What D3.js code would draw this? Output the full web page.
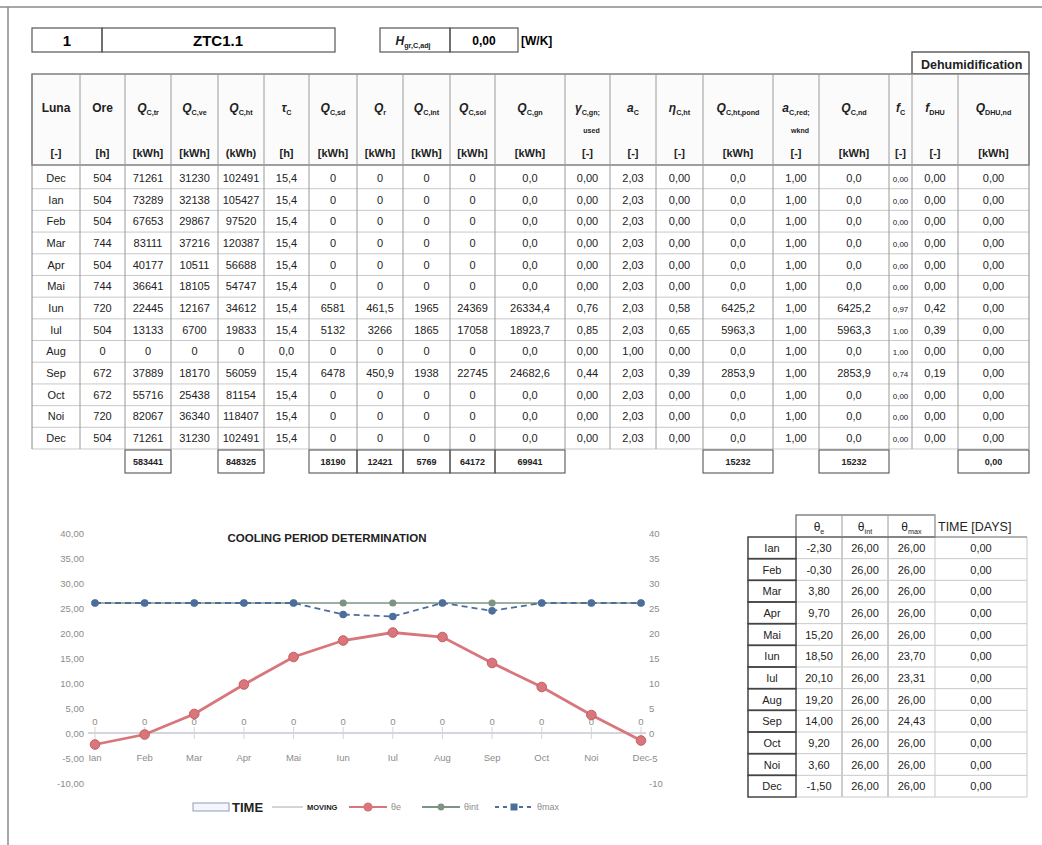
<!DOCTYPE html>
<html>
<head>
<meta charset="utf-8">
<script src="https://cdn.jsdelivr.net/npm/d3@7"></script>
<style>
body { margin: 0; background: #fff; }
svg { font-family: "Liberation Sans Narrow", "Liberation Sans", Arial, sans-serif; }
</style>
</head>
<body>
<svg id="sheet"></svg>
<script>
// ---- upper table data ----
const luna  = ["Dec","Ian","Feb","Mar","Apr","Mai","Iun","Iul","Aug","Sep","Oct","Noi","Dec"];
const ore   = [504,504,504,744,504,744,720,504,0,672,672,720,504];
const qTr   = [71261,73289,67653,83111,40177,36641,22445,13133,0,37889,55716,82067,71261];
const qVe   = [31230,32138,29867,37216,10511,18105,12167,6700,0,18170,25438,36340,31230];
const qHt   = [102491,105427,97520,120387,56688,54747,34612,19833,0,56059,81154,118407,102491];
const tauC  = [15.4,15.4,15.4,15.4,15.4,15.4,15.4,15.4,0,15.4,15.4,15.4,15.4];
const qSd   = [0,0,0,0,0,0,6581,5132,0,6478,0,0,0];
const qR    = [0,0,0,0,0,0,461.5,3266,0,450.9,0,0,0];
const qInt  = [0,0,0,0,0,0,1965,1865,0,1938,0,0,0];
const qSol  = [0,0,0,0,0,0,24369,17058,0,22745,0,0,0];
const qGn   = [0,0,0,0,0,0,26334.4,18923.7,0,24682.6,0,0,0];
const gamma = [0,0,0,0,0,0,0.76,0.85,0,0.44,0,0,0];
const aC    = [2.03,2.03,2.03,2.03,2.03,2.03,2.03,2.03,1.00,2.03,2.03,2.03,2.03];
const eta   = [0,0,0,0,0,0,0.58,0.65,0,0.39,0,0,0];
const qPond = [0,0,0,0,0,0,6425.2,5963.3,0,2853.9,0,0,0];
const aRed  = [1,1,1,1,1,1,1,1,1,1,1,1,1];
const qNd   = [0,0,0,0,0,0,6425.2,5963.3,0,2853.9,0,0,0];
const fC    = [0,0,0,0,0,0,0.97,1.00,1.00,0.74,0,0,0];
const fDhu  = [0,0,0,0,0,0,0.42,0.39,0,0.19,0,0,0];
const qDhu  = [0,0,0,0,0,0,0,0,0,0,0,0,0];

// totals row: [column index, value, decimals]
const totals = [[2,583441,0],[4,848325,0],[6,18190,0],[7,12421,0],[8,5769,0],[9,64172,0],[10,69941,0],[14,15232,0],[16,15232,0],[19,0,2]];

// ---- chart / right table data ----
const months    = ["Ian","Feb","Mar","Apr","Mai","Iun","Iul","Aug","Sep","Oct","Noi","Dec"];
const thetaE    = [-2.3,-0.3,3.8,9.7,15.2,18.5,20.1,19.2,14.0,9.2,3.6,-1.5];
const thetaInt  = [26,26,26,26,26,26,26,26,26,26,26,26];
const thetaMax  = [26,26,26,26,26,23.70,23.31,26,24.43,26,26,26];
const timeDays  = [0,0,0,0,0,0,0,0,0,0,0,0];
const leftTicks = [-10,-5,0,5,10,15,20,25,30,35,40];

const loc = d3.formatLocale({decimal: ",", thousands: ".", grouping: [3], currency: ["",""], minus: "-"});
const f = n => loc.format("." + n + "f");
const fAuto = v => Number.isInteger(v) ? f(0)(v) : f(1)(v);

const svg = d3.select("#sheet").attr("width", 1042).attr("height", 845);
const ink = "#222", rule = "#9a9a9a", faint = "#c9c9c9";

// page frame
svg.append("line").attr("x1", 0).attr("x2", 1042).attr("y1", 7).attr("y2", 7).attr("stroke", "#8a8a8a").attr("stroke-width", 1.5);
svg.append("line").attr("x1", 8).attr("x2", 8).attr("y1", 7).attr("y2", 845).attr("stroke", "#8a8a8a").attr("stroke-width", 1.5);

function box(x, y, w, h, sw = 1.2) {
    svg.append("rect").attr("x", x).attr("y", y).attr("width", w).attr("height", h)
        .attr("fill", "none").attr("stroke", "#555").attr("stroke-width", sw);
}

function label(g, x, y, main, sub, size, opts = {}) {
    const t = g.append("text").attr("x", x).attr("y", y)
        .attr("text-anchor", opts.anchor || "middle").attr("font-size", size)
        .attr("font-weight", opts.weight || "bold").attr("fill", ink);
    t.append("tspan").attr("font-style", opts.italic ? "italic" : null).text(main);
    if (sub) t.append("tspan").attr("font-size", size * 0.6).attr("dy", 3).attr("font-style", "normal").text(sub);
    return t;
}

// top boxes
box(32, 28, 70, 24); box(102, 28, 233, 24);
svg.append("text").attr("x", 67).attr("y", 46).attr("text-anchor", "middle").attr("font-size", 15).attr("font-weight", "bold").attr("font-family", "Liberation Sans").text("1");
svg.append("text").attr("x", 218).attr("y", 46).attr("text-anchor", "middle").attr("font-size", 15).attr("font-weight", "bold").attr("font-family", "Liberation Sans").text("ZTC1.1");
box(380, 28, 70, 24); box(450, 28, 68, 24);
label(svg, 413, 45, "H", "gr,C,adj", 12, {italic: true});
svg.append("text").attr("x", 484).attr("y", 45).attr("text-anchor", "middle").attr("font-size", 12).attr("font-weight", "bold").text("0,00");
svg.append("text").attr("x", 521).attr("y", 45).attr("font-size", 12).attr("font-weight", "bold").text("[W/K]");

// dehumidification header
box(912, 52, 117, 22, 1.4);
svg.append("text").attr("x", 921).attr("y", 69).attr("font-size", 12.5).attr("font-weight", "bold")
    .attr("font-family", "Liberation Sans").attr("fill", ink).text("Dehumidification");

// ---- upper table ----
const colEdges = [32,80,125,171,218,264,309,357,403,450,495,565,610,656,703,773,819,889,912,958,1029];
const columns = [
    {name: "Luna", unit: "[-]",   vals: luna,  fmt: d => d},
    {name: "Ore",  unit: "[h]",   vals: ore,   fmt: f(0)},
    {name: "Q", sub: "C,tr",  unit: "[kWh]", vals: qTr, fmt: f(0)},
    {name: "Q", sub: "C,ve",  unit: "[kWh]", vals: qVe, fmt: f(0)},
    {name: "Q", sub: "C,ht",  unit: "(kWh)", vals: qHt, fmt: f(0)},
    {name: "τ", sub: "C",     unit: "[h]",   vals: tauC, fmt: f(1)},
    {name: "Q", sub: "C,sd",  unit: "[kWh]", vals: qSd, fmt: f(0)},
    {name: "Q", sub: "r",     unit: "[kWh]", vals: qR,  fmt: fAuto},
    {name: "Q", sub: "C,int", unit: "[kWh]", vals: qInt, fmt: f(0)},
    {name: "Q", sub: "C,sol", unit: "[kWh]", vals: qSol, fmt: f(0)},
    {name: "Q", sub: "C,gn",  unit: "[kWh]", vals: qGn, fmt: f(1)},
    {name: "γ", sub: "C,gn;", sub2: "used", unit: "[-]", vals: gamma, fmt: f(2)},
    {name: "a", sub: "C",     unit: "[-]",   vals: aC,  fmt: f(2)},
    {name: "η", sub: "C,ht",  unit: "[-]",   vals: eta, fmt: f(2)},
    {name: "Q", sub: "C,ht,pond", unit: "[kWh]", vals: qPond, fmt: f(1)},
    {name: "a", sub: "C,red;", sub2: "wknd", unit: "[-]", vals: aRed, fmt: f(2)},
    {name: "Q", sub: "C,nd",  unit: "[kWh]", vals: qNd, fmt: f(1)},
    {name: "f", sub: "C",     unit: "[-]",   vals: fC,  fmt: f(2), small: true},
    {name: "f", sub: "DHU",   unit: "[-]",   vals: fDhu, fmt: f(2)},
    {name: "Q", sub: "DHU,nd", unit: "[kWh]", vals: qDhu, fmt: f(2)}
];

const tbl = svg.append("g");
const rowY = d3.scaleBand().domain(d3.range(luna.length)).range([167, 449]);
const mid = i => (colEdges[i] + colEdges[i + 1]) / 2;

tbl.append("rect").attr("x", 32).attr("y", 74).attr("width", 1029 - 32).attr("height", 91)
    .attr("fill", "#fbfbfb").attr("stroke", "#777").attr("stroke-width", 1.4);
rowY.domain().forEach(i => {
    tbl.append("line").attr("x1", 32).attr("x2", 1029).attr("y1", rowY(i) + rowY.bandwidth())
        .attr("y2", rowY(i) + rowY.bandwidth()).attr("stroke", faint);
});
colEdges.forEach((x, i) => {
    tbl.append("line").attr("x1", x).attr("x2", x).attr("y1", 74).attr("y2", 449)
        .attr("stroke", i === 0 || i === colEdges.length - 1 ? "#888" : rule).attr("stroke-width", 1);
});

columns.forEach((c, i) => {
    const x = mid(i);
    label(tbl, x, 112, c.name, c.sub, 12, {italic: c.name.length === 1});
    if (c.sub2) tbl.append("text").attr("x", x + 4).attr("y", 133).attr("text-anchor", "middle")
        .attr("font-size", 7).attr("font-weight", "bold").attr("fill", ink).text(c.sub2);
    tbl.append("text").attr("x", x).attr("y", 157).attr("text-anchor", "middle")
        .attr("font-size", 11).attr("font-weight", "bold").attr("fill", ink).text(c.unit);
    c.vals.forEach((v, r) => {
        tbl.append("text").attr("x", x).attr("y", rowY(r) + rowY.bandwidth() / 2 + 4)
            .attr("text-anchor", "middle").attr("font-size", c.small ? 8 : 11).attr("fill", ink)
            .text(c.fmt(v));
    });
});

totals.forEach(([ci, v, d]) => {
    box(colEdges[ci], 450, colEdges[ci + 1] - colEdges[ci], 23, 1.1);
    tbl.append("text").attr("x", mid(ci)).attr("y", 465).attr("text-anchor", "middle")
        .attr("font-size", 9).attr("font-weight", "bold").attr("fill", ink).text(f(d)(v));
});

// ---- chart ----
const chart = svg.append("g");
const x = d3.scalePoint().domain(months).range([95, 641]);
const y = d3.scaleLinear().domain([-10, 40]).range([783, 533]);
const y2 = d3.scaleLinear().domain([-10, 40]).range([783, 533]);
const grey = "#8c8c8c";

chart.append("text").attr("x", 327).attr("y", 542).attr("text-anchor", "middle")
    .attr("font-size", 11.5).attr("font-weight", "bold").attr("font-family", "Liberation Sans")
    .attr("fill", ink).text("COOLING PERIOD DETERMINATION");

chart.append("g").attr("transform", "translate(87,0)")
    .call(d3.axisLeft(y).tickValues(leftTicks).tickSize(0).tickFormat(f(2)))
    .call(g => g.select(".domain").remove())
    .selectAll("text").attr("font-size", 9.5).attr("fill", grey).attr("font-family", "Liberation Sans");
chart.append("g").attr("transform", "translate(646,0)")
    .call(d3.axisRight(y2).tickValues(leftTicks).tickSize(0).tickFormat(f(0)))
    .call(g => g.select(".domain").remove())
    .selectAll("text").attr("font-size", 9.5).attr("fill", grey).attr("font-family", "Liberation Sans");

// category axis along zero
chart.append("line").attr("x1", 88).attr("x2", 646).attr("y1", y(0)).attr("y2", y(0))
    .attr("stroke", "#c4c9d2").attr("stroke-width", 1.5);
chart.selectAll(".tk").data(months).join("line")
    .attr("x1", d => x(d)).attr("x2", d => x(d)).attr("y1", y(0) - 6).attr("y2", y(0) + 6)
    .attr("stroke", "#d5d5d5");
chart.selectAll(".cat").data(months).join("text")
    .attr("x", d => x(d)).attr("y", 761).attr("text-anchor", "middle")
    .attr("font-size", 9.5).attr("fill", grey).attr("font-family", "Liberation Sans").text(d => d);

// TIME bars (secondary axis) with data labels
chart.selectAll(".bar").data(timeDays).join("rect")
    .attr("x", (d, i) => x(months[i]) - 14).attr("width", 28)
    .attr("y", d => y2(d)).attr("height", d => y2(0) - y2(d))
    .attr("fill", "#fff").attr("stroke", "#9aa7c7");
chart.selectAll(".lab").data(timeDays).join("text")
    .attr("x", (d, i) => x(months[i])).attr("y", d => y2(d) - 8).attr("text-anchor", "middle")
    .attr("font-size", 9.5).attr("fill", grey).attr("font-family", "Liberation Sans").text(d => f(0)(d));

function series(vals, color, width, dash, r, stroke) {
    const pts = vals.map((v, i) => [x(months[i]), y(v)]);
    chart.append("path").attr("d", d3.line()(pts)).attr("fill", "none")
        .attr("stroke", color).attr("stroke-width", width).attr("stroke-dasharray", dash);
    chart.append("g").selectAll("circle").data(pts).join("circle")
        .attr("cx", d => d[0]).attr("cy", d => d[1]).attr("r", r).attr("fill", color)
        .attr("stroke", stroke || "none").attr("stroke-width", 1);
}
series(thetaE, "#d9767c", 2.8, null, 4.8, "#c45e65");
series(thetaInt, "#7d9383", 1.6, null, 3.6);
series(thetaMax, "#4c6e9c", 1.8, "6,4", 3.8);

// legend
const lg = chart.append("g");
lg.append("rect").attr("x", 193).attr("y", 803).attr("width", 36).attr("height", 8)
    .attr("fill", "#f4f6fb").attr("stroke", "#8f9bb8");
lg.append("text").attr("x", 232).attr("y", 812).attr("font-size", 13).attr("font-weight", "bold")
    .attr("font-family", "Liberation Sans").attr("fill", ink).text("TIME");
lg.append("line").attr("x1", 272).attr("x2", 303).attr("y1", 807).attr("y2", 807).attr("stroke", "#aaa");
lg.append("text").attr("x", 307).attr("y", 810).attr("font-size", 7.5).attr("font-weight", "bold").attr("fill", ink).text("MOVING");
const items = [
    {x: 349, color: "#d9767c", dash: null, name: "θe", r: 4.6},
    {x: 422, color: "#7d9383", dash: null, name: "θint", r: 3.4},
    {x: 495, color: "#4c6e9c", dash: "4,4", name: "θmax", r: 3.4}
];
items.forEach(it => {
    lg.append("line").attr("x1", it.x).attr("x2", it.x + 38).attr("y1", 807).attr("y2", 807)
        .attr("stroke", it.color).attr("stroke-width", 1.8).attr("stroke-dasharray", it.dash);
    if (it.name === "θmax") lg.append("rect").attr("x", it.x + 15.5).attr("y", 803.5).attr("width", 7).attr("height", 7).attr("fill", it.color);
    else lg.append("circle").attr("cx", it.x + 19).attr("cy", 807).attr("r", it.r).attr("fill", it.color);
    lg.append("text").attr("x", it.x + 42).attr("y", 810).attr("font-size", 9).attr("fill", grey)
        .attr("font-family", "Liberation Sans").text(it.name);
});

// ---- right table ----
const rt = svg.append("g");
const rEdges = [748,796,842,888,935,1027];
const rRow = d3.scaleBand().domain(months).range([537, 797]);
const rmid = i => (rEdges[i] + rEdges[i + 1]) / 2;

rt.append("rect").attr("x", 796).attr("y", 515).attr("width", 935 - 796).attr("height", 22)
    .attr("fill", "none").attr("stroke", "#666").attr("stroke-width", 1.2);
[842, 888].forEach(xx => rt.append("line").attr("x1", xx).attr("x2", xx).attr("y1", 515).attr("y2", 797).attr("stroke", rule));
rt.append("line").attr("x1", 935).attr("x2", 935).attr("y1", 515).attr("y2", 797).attr("stroke", faint);
rt.append("line").attr("x1", 1027).attr("x2", 1027).attr("y1", 537).attr("y2", 797).attr("stroke", faint);
label(rt, rmid(1), 531, "θ", "e", 12, {weight: "normal"});
label(rt, rmid(2), 531, "θ", "int", 12, {weight: "normal"});
label(rt, rmid(3), 531, "θ", "max", 12, {weight: "normal"});
rt.append("text").attr("x", 938).attr("y", 531).attr("font-size", 12.5).attr("font-family", "Liberation Sans")
    .attr("fill", ink).text("TIME [DAYS]");

months.forEach((m, i) => {
    const yy = rRow(m), h = rRow.bandwidth();
    rt.append("line").attr("x1", 796).attr("x2", 1027).attr("y1", yy + h).attr("y2", yy + h).attr("stroke", faint);
    rt.append("rect").attr("x", 748).attr("y", yy).attr("width", 48).attr("height", h)
        .attr("fill", "none").attr("stroke", "#444").attr("stroke-width", 1.5);
    rt.append("text").attr("x", rmid(0)).attr("y", yy + h / 2 + 4).attr("text-anchor", "middle")
        .attr("font-size", 11).attr("fill", ink).text(m);
    [thetaE[i], thetaInt[i], thetaMax[i], timeDays[i]].forEach((v, k) => {
        rt.append("text").attr("x", rmid(k + 1)).attr("y", yy + h / 2 + 4).attr("text-anchor", "middle")
            .attr("font-size", 11).attr("fill", ink).text(f(2)(v));
    });
});
rt.append("line").attr("x1", 796).attr("x2", 1027).attr("y1", 537).attr("y2", 537).attr("stroke", "#666");
</script>
</body>
</html>
